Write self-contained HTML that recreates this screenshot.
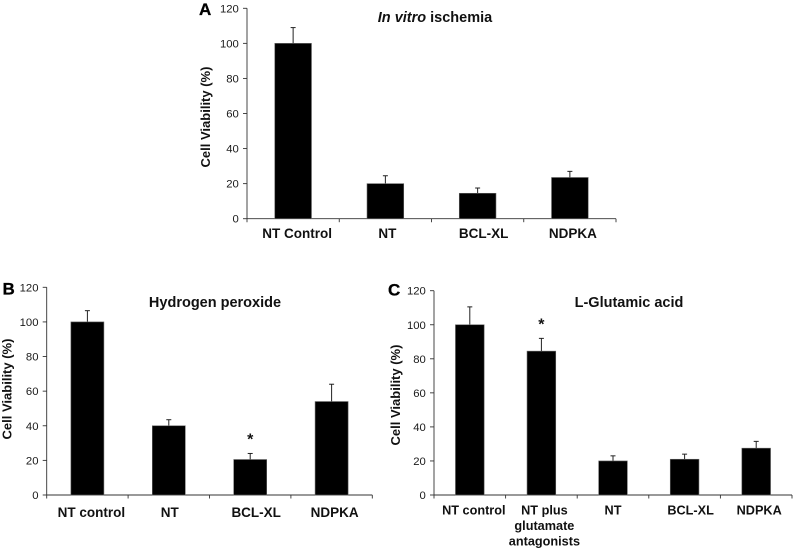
<!DOCTYPE html>
<html>
<head>
<meta charset="utf-8">
<title>Cell viability charts</title>
<style>
html,body{margin:0;padding:0;background:#fff;}
svg{display:block;font-family:"Liberation Sans",Arial,sans-serif;}
.tick{font-size:11.3px;fill:#1a1a1a;text-anchor:end;}
.cat{font-weight:bold;fill:#111;text-anchor:middle;}
.title{font-size:14.5px;font-weight:bold;fill:#111;text-anchor:middle;}
.ytitle{font-size:13px;font-weight:bold;fill:#111;text-anchor:middle;}
.panel{font-size:17px;font-weight:bold;fill:#000;stroke:#000;stroke-width:.3px;}
.star{font-size:16px;font-weight:bold;fill:#111;text-anchor:middle;}
</style>
</head>
<body>
<svg id="fig" width="793" height="548" viewBox="0 0 793 548" xmlns="http://www.w3.org/2000/svg">
  <rect width="793" height="548" fill="#fff"/>
  <text class="panel" x="199" y="15">A</text>
  <text class="panel" x="2.5" y="294.3">B</text>
  <text class="panel" x="388" y="295.3">C</text>
  <text class="title" x="435" y="22"><tspan font-style="italic">In vitro</tspan> ischemia</text>
  <text class="title" x="215" y="307">Hydrogen peroxide</text>
  <text class="title" x="629" y="307">L-Glutamic acid</text>
  <text class="ytitle" transform="translate(210,117) rotate(-90)">Cell Viability (%)</text>
  <text class="ytitle" transform="translate(11.5,389) rotate(-90)">Cell Viability (%)</text>
  <text class="ytitle" transform="translate(400,395) rotate(-90)">Cell Viability (%)</text>
</svg>
<script>
const yTicks = [0, 20, 40, 60, 80, 100, 120];

const aCategories = [["NT Control"], ["NT"], ["BCL-XL"], ["NDPKA"]];
const aValues = [100, 20, 14.5, 23.5];
const aErrors = [9, 4.5, 3, 3.5];
const aStars = [false, false, false, false];

const bCategories = [["NT control"], ["NT"], ["BCL-XL"], ["NDPKA"]];
const bValues = [100, 40, 20.5, 54];
const bErrors = [6.5, 3.5, 3.5, 10];
const bStars = [false, false, true, false];

const cCategories = [["NT control"], ["NT plus", "glutamate", "antagonists"], ["NT"], ["BCL-XL"], ["NDPKA"]];
const cValues = [100, 84.5, 20, 21, 27.5];
const cErrors = [10.5, 7.5, 3, 3, 4];
const cStars = [false, true, false, false, false];

const SVG_NS = "http://www.w3.org/2000/svg";
const svg = document.getElementById("fig");

function make(tag, attrs, parent) {
  const el = document.createElementNS(SVG_NS, tag);
  for (const k in attrs) el.setAttribute(k, attrs[k]);
  parent.appendChild(el);
  return el;
}

function drawChart(cfg, categories, values, errors, stars) {
  const g = make("g", {}, svg);
  
  

  const yMax = yTicks[yTicks.length - 1];
  const y = v => cfg.y0 - (v / yMax) * (cfg.y0 - cfg.yTop);
  const band = (cfg.xRight - cfg.x0) / categories.length;
  const xc = i => cfg.x0 + band * (i + 0.5);
  const axisColor = "#333";

  yTicks.forEach(t => {
    const tickMark = make("line", {x1: cfg.x0 - 4, x2: cfg.x0, y1: y(t), y2: y(t), stroke: axisColor, "stroke-width": 0.9}, g);
    
    
    const label = make("text", {class: "tick", x: cfg.x0 - 8.2, y: y(t) + 4}, g);
    
    
    label.textContent = t;
  });

  const yAxis = make("line", {x1: cfg.x0, x2: cfg.x0, y1: y(yMax), y2: cfg.y0, stroke: axisColor, "stroke-width": 0.9}, g);
  
  

  const xAxis = make("line", {x1: cfg.x0, x2: cfg.xRight, y1: cfg.y0, y2: cfg.y0, stroke: axisColor, "stroke-width": 0.9}, g);
  
  

  for (let i = 0; i <= categories.length; i++) {
    const px = cfg.x0 + band * i;
    const xTick = make("line", {x1: px, x2: px, y1: cfg.y0, y2: cfg.y0 + 3.5, stroke: axisColor, "stroke-width": 0.9}, g);
    
    
  }

  values.forEach((v, i) => {
    const top = y(v + errors[i]);
    const errLine = make("line", {x1: xc(i), x2: xc(i), y1: top, y2: y(v), stroke: "#222", "stroke-width": 1}, g);
    
    
    const errCap = make("line", {x1: xc(i) - 2.5, x2: xc(i) + 2.5, y1: top, y2: top, stroke: "#222", "stroke-width": 1}, g);
    
    

    const bar = make("rect", {x: xc(i) - cfg.barW / 2, y: y(v), width: cfg.barW, height: cfg.y0 - y(v), fill: "#000", stroke: "#666", "stroke-width": 0.6}, g);
    
    

    categories[i].forEach((line, k) => {
      const cat = make("text", {class: "cat", "font-size": cfg.catSize, x: xc(i) + cfg.labelShift[i], y: cfg.labelY + k * 15.3}, g);
      
      
      cat.textContent = line;
    });

    if (stars[i]) {
      const star = make("text", {class: "star", x: xc(i), y: top - 9}, g);
      
      
      star.textContent = "*";
    }
  });
}

drawChart({id: "a", x0: 247, xRight: 616, y0: 218.7, yTop: 8.3, barW: 36.7, catSize: 13.5, labelY: 238, labelShift: [4, 2, 6, 3]},
  aCategories, aValues, aErrors, aStars);
drawChart({id: "b", x0: 46.7, xRight: 372.3, y0: 495, yTop: 287.3, barW: 33, catSize: 13.5, labelY: 517, labelShift: [4, 1, 6, 3]},
  bCategories, bValues, bErrors, bStars);
drawChart({id: "c", x0: 434, xRight: 792, y0: 495, yTop: 290.7, barW: 28.7, catSize: 12.7, labelY: 514.7, labelShift: [4, 3, 0, 6, 3]},
  cCategories, cValues, cErrors, cStars);
</script>
</body>
</html>
